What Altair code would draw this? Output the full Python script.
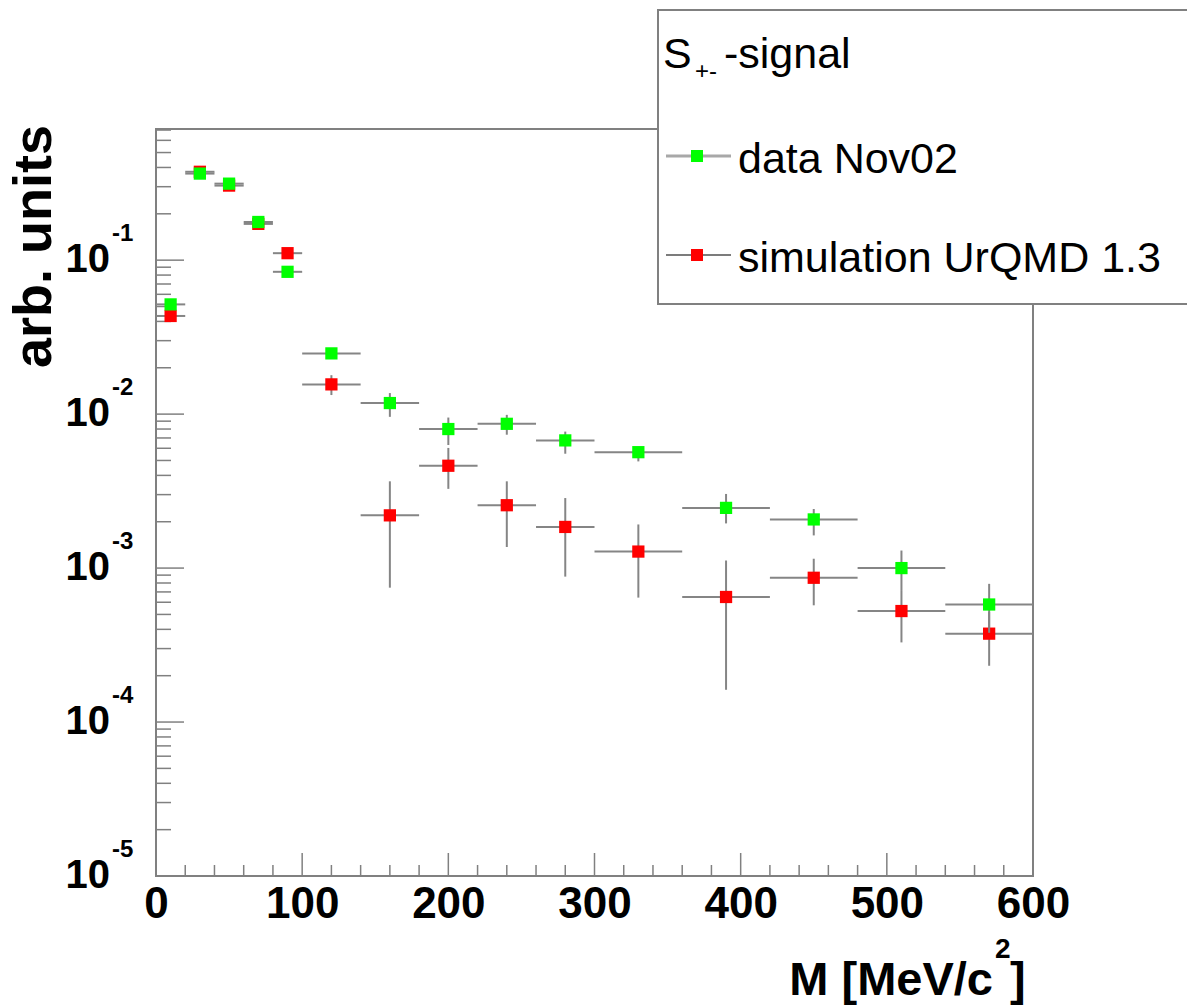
import altair as alt
import pandas as pd

# ---------------- data ----------------
bin_lo = [0, 20, 40, 60, 80, 100, 140, 180, 220, 260, 300, 360, 420, 480, 540]
bin_hi = [20, 40, 60, 80, 100, 140, 180, 220, 260, 300, 360, 420, 480, 540, 600]
bin_center = [10, 30, 50, 70, 90, 120, 160, 200, 240, 280, 330, 390, 450, 510, 570]

data_val = [0.0516, 0.365, 0.314, 0.177, 0.084, 0.0248, 0.0118, 0.0080, 0.00865,
            0.00675, 0.00566, 0.00246, 0.00207, 0.00100, 0.00058]
data_lo = [0.0500, 0.356, 0.306, 0.172, 0.081, 0.0237, 0.0096, 0.0063, 0.00735,
           0.00553, 0.00493, 0.00195, 0.00163, 0.00072, 0.00038]
data_hi = [0.0532, 0.374, 0.322, 0.182, 0.087, 0.0259, 0.0137, 0.0095, 0.00989,
           0.0077, 0.00587, 0.00303, 0.00242, 0.0013, 0.00079]

sim_val = [0.0434, 0.375, 0.305, 0.172, 0.111, 0.0156, 0.0022, 0.00462, 0.00256,
           0.00185, 0.00128, 0.000649, 0.000865, 0.000526, 0.000375]
sim_lo = [0.0420, 0.366, 0.297, 0.167, 0.107, 0.0133, 0.000746, 0.00327, 0.00137,
          0.00088, 0.000643, 0.000162, 0.000573, 0.000329, 0.000232]
sim_hi = [0.0448, 0.384, 0.313, 0.177, 0.115, 0.0179, 0.00366, 0.00603, 0.00366,
          0.00285, 0.00192, 0.00112, 0.00115, 0.00072, 0.00052]

series_names = ["data Nov02", "simulation UrQMD 1.3"]
series_colors = ["#00ff00", "#ff0000"]
legend_header = ["S", "+-", "-signal"]

x_tick_labels = [0, 100, 200, 300, 400, 500, 600]
x_minor_ticks = [v for v in range(20, 600, 20) if v % 100 != 0]
y_major_ticks = [1e-5, 1e-4, 1e-3, 1e-2, 1e-1]
y_exponents = ["-5", "-4", "-3", "-2", "-1"]
y_minor_ticks = [m * 10.0 ** k for k in range(-5, 0) for m in range(2, 10)
                 if m * 10.0 ** k < 0.71]

x_axis_title = ["M [MeV/c", "2", "]"]
y_axis_title = "arb. units"

# ---------------- geometry / styles ----------------
W, H = 877, 747
FONT = "Liberation Sans"
AXC = "#808080"
BARC = "#858585"

xs = alt.Scale(domain=[0, 600], nice=False, zero=False)
ys = alt.Scale(type="log", domain=[1e-5, 0.711], nice=False)
xaxis = alt.Axis(values=x_tick_labels, ticks=False, domain=False, grid=False,
                 labelFontSize=44, labelFont=FONT, labelFontWeight="bold",
                 labelColor="black", labelPadding=6, title=None,
                 labelFlush=False, labelOverlap=False)


def series_df(val, lo, hi):
    return pd.DataFrame({"lo": bin_lo, "hi": bin_hi, "center": bin_center,
                         "val": val, "elo": lo, "ehi": hi})


def series_layers(df, color):
    h = alt.Chart(df).mark_rule(color=BARC, strokeWidth=2).encode(
        x=alt.X("lo:Q", scale=xs, axis=xaxis), x2="hi:Q",
        y=alt.Y("val:Q", scale=ys, axis=None))
    v = alt.Chart(df).mark_rule(color=BARC, strokeWidth=2).encode(
        x=alt.X("center:Q", scale=xs, axis=xaxis),
        y=alt.Y("elo:Q", scale=ys, axis=None), y2="ehi:Q")
    p = alt.Chart(df).mark_square(size=150, color=color, filled=True, opacity=1).encode(
        x=alt.X("center:Q", scale=xs, axis=xaxis),
        y=alt.Y("val:Q", scale=ys, axis=None))
    return [h, v, p]


df_data = series_df(data_val, data_lo, data_hi)
df_sim = series_df(sim_val, sim_lo, sim_hi)

# ticks (inside, ROOT style)
df_ymaj = pd.DataFrame({"v": y_major_ticks, "base": ["10"] * len(y_major_ticks),
                        "exp": y_exponents})
df_ymin = pd.DataFrame({"v": y_minor_ticks})
df_xmaj = pd.DataFrame({"v": x_tick_labels})
df_xmin = pd.DataFrame({"v": x_minor_ticks})

ymaj = alt.Chart(df_ymaj).mark_rule(color=AXC, strokeWidth=1.5).encode(
    y=alt.Y("v:Q", scale=ys, axis=None), x=alt.value(0), x2=alt.value(28))
ymin = alt.Chart(df_ymin).mark_rule(color=AXC, strokeWidth=1.5).encode(
    y=alt.Y("v:Q", scale=ys, axis=None), x=alt.value(0), x2=alt.value(15))
xmaj = alt.Chart(df_xmaj).mark_rule(color=AXC, strokeWidth=1.5).encode(
    x=alt.X("v:Q", scale=xs, axis=xaxis), y=alt.value(H), y2=alt.value(H - 23))
xmin = alt.Chart(df_xmin).mark_rule(color=AXC, strokeWidth=1.5).encode(
    x=alt.X("v:Q", scale=xs, axis=xaxis), y=alt.value(H), y2=alt.value(H - 11))

# y tick labels 10^k
ylab_base = alt.Chart(df_ymaj).mark_text(
    align="right", baseline="middle", fontSize=40, font=FONT, fontWeight="bold",
    color="black").encode(y=alt.Y("v:Q", scale=ys, axis=None),
                          x=alt.value(-46), text="base:N")
ylab_exp = alt.Chart(df_ymaj).mark_text(
    align="left", baseline="middle", fontSize=24, font=FONT, fontWeight="bold",
    color="black", dy=-26).encode(y=alt.Y("v:Q", scale=ys, axis=None),
                                  x=alt.value(-44), text="exp:N")

# axis titles
one = pd.DataFrame({"t": [0]})
xt1 = alt.Chart(one).mark_text(align="right", baseline="alphabetic", fontSize=47,
                               font=FONT, fontWeight="bold", color="black",
                               text=x_axis_title[0]).encode(x=alt.value(837), y=alt.value(866))
xt2 = alt.Chart(one).mark_text(align="left", baseline="alphabetic", fontSize=28,
                               font=FONT, fontWeight="bold", color="black",
                               text=x_axis_title[1]).encode(x=alt.value(839), y=alt.value(829))
xt3 = alt.Chart(one).mark_text(align="left", baseline="alphabetic", fontSize=47,
                               font=FONT, fontWeight="bold", color="black",
                               text=x_axis_title[2]).encode(x=alt.value(854), y=alt.value(866))
yt = alt.Chart(one).mark_text(align="right", baseline="middle", fontSize=54, angle=270,
                              font=FONT, fontWeight="bold", color="black",
                              text=y_axis_title).encode(x=alt.value(-121), y=alt.value(-4))

# legend
leg_box = alt.Chart(one).mark_rect(fill="white", stroke=AXC, strokeWidth=2).encode(
    x=alt.value(502), x2=alt.value(1040), y=alt.value(-119), y2=alt.value(175))
hdr1 = alt.Chart(one).mark_text(align="left", baseline="alphabetic", fontSize=43, font=FONT,
                                color="black", text=legend_header[0]).encode(
    x=alt.value(507), y=alt.value(-61))
hdr2 = alt.Chart(one).mark_text(align="left", baseline="alphabetic", fontSize=24, font=FONT,
                                color="black", text=legend_header[1]).encode(
    x=alt.value(539), y=alt.value(-50))
hdr3 = alt.Chart(one).mark_text(align="left", baseline="alphabetic", fontSize=43, font=FONT,
                                color="black", text=legend_header[2]).encode(
    x=alt.value(568), y=alt.value(-61))

leg_layers = []
line_styles = [("#a8a8a8", 3), ("#505050", 1.5)]
for i, (name, col) in enumerate(zip(series_names, series_colors)):
    ly = 27 + 99 * i
    lcol, lw = line_styles[i]
    leg_layers.append(alt.Chart(one).mark_rule(color=lcol, strokeWidth=lw).encode(
        x=alt.value(510), x2=alt.value(575), y=alt.value(ly)))
    leg_layers.append(alt.Chart(one).mark_square(size=144, color=col, filled=True,
                                                 opacity=1).encode(
        x=alt.value(541), y=alt.value(ly)))
    leg_layers.append(alt.Chart(one).mark_text(align="left", baseline="alphabetic",
                                               fontSize=43, font=FONT, color="black",
                                               text=name).encode(
        x=alt.value(582), y=alt.value(ly + 17)))

layers = ([ymin, ymaj, xmin, xmaj]
          + series_layers(df_sim, series_colors[1])
          + series_layers(df_data, series_colors[0])
          + [ylab_base, ylab_exp, xt1, xt2, xt3, yt, leg_box, hdr1, hdr2, hdr3]
          + leg_layers)

chart = alt.layer(*layers).properties(
    width=W, height=H,
    padding={"left": 156, "top": 129, "right": 154, "bottom": 129},
    autosize=alt.AutoSizeParams(type="none"),
    background="white",
).configure_view(stroke=AXC, strokeWidth=2)

chart.save("out.html", embed_options={"renderer": "svg", "actions": False})
